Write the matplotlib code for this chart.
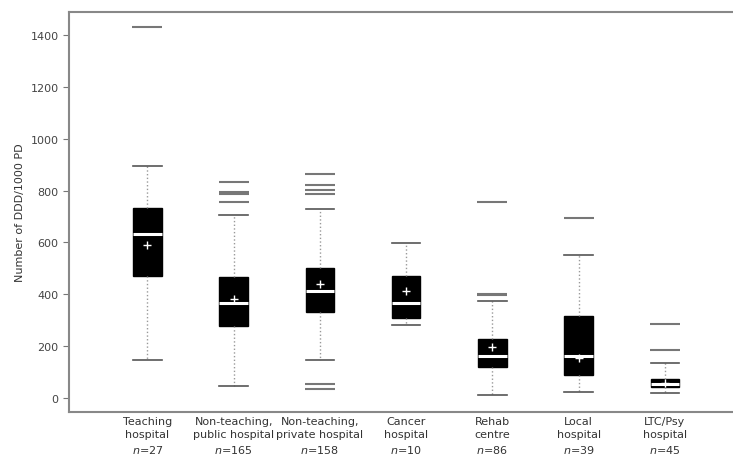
import matplotlib
matplotlib.use("Agg")
import matplotlib.pyplot as plt

categories = ["Teaching\nhospital", "Non-teaching,\npublic hospital", "Non-teaching,\nprivate hospital",
              "Cancer\nhospital", "Rehab\ncentre", "Local\nhospital", "LTC/Psy\nhospital"]
n_values = [27, 165, 158, 10, 86, 39, 45]
q1 = [472, 279, 330, 307, 118, 90, 41]
median = [634, 366, 411, 365, 161, 161, 54]
q3 = [734, 468, 500, 472, 228, 315, 73]
mean = [591, 382, 440, 414, 196, 153, 60]
whisker_low = [146, 45, 148, 282, 12, 22, 20]
whisker_high = [896, 706, 728, 597, 375, 551, 135]
outliers = [
    [1431],
    [832, 795, 785, 757],
    [864, 821, 802, 786, 54, 35],
    [],
    [757, 403, 396],
    [693],
    [285, 185],
]
yticks = [0, 200, 400, 600, 800, 1000, 1200, 1400]

stats = []
for i, c in enumerate(categories):
    stats.append(dict(label=f"{c}\n$n$={n_values[i]}", q1=q1[i], med=median[i], q3=q3[i],
                      mean=mean[i], whislo=whisker_low[i], whishi=whisker_high[i],
                      fliers=outliers[i]))

fig = plt.figure(figsize=(7.33, 4.60), dpi=100)
ax = fig.add_axes([0.094, 0.102, 0.906, 0.870])

ax.bxp(stats, positions=range(1, 8), widths=0.33, patch_artist=True, showmeans=True,
       boxprops=dict(facecolor="black", edgecolor="black", linewidth=1),
       medianprops=dict(color="white", linewidth=2.2),
       meanprops=dict(marker="+", markeredgecolor="white", markersize=6, markeredgewidth=1),
       whiskerprops=dict(color="#999999", linestyle=":", linewidth=1),
       capprops=dict(color="#555555", linewidth=1.2),
       capwidths=0.33,
       flierprops=dict(marker="_", markersize=21, markeredgecolor="#777777", markeredgewidth=1.5))

ax.set_xlim(0.09, 7.79)
ax.set_ylim(-54, 1489)
ax.set_yticks(yticks)
ax.set_ylabel("Number of DDD/1000 PD", fontsize=8, color="#333333")
ax.tick_params(axis="y", labelsize=8, colors="#444444", length=4, color="#777777")
ax.tick_params(axis="x", labelsize=8, colors="#333333", length=0, pad=3)
for lbl in ax.get_xticklabels():
    lbl.set_linespacing(1.35)
for s in ["left", "top", "bottom"]:
    ax.spines[s].set_color("#888888")
    ax.spines[s].set_linewidth(1.5)
ax.spines["right"].set_visible(False)

fig.savefig("out.png", dpi=100)
